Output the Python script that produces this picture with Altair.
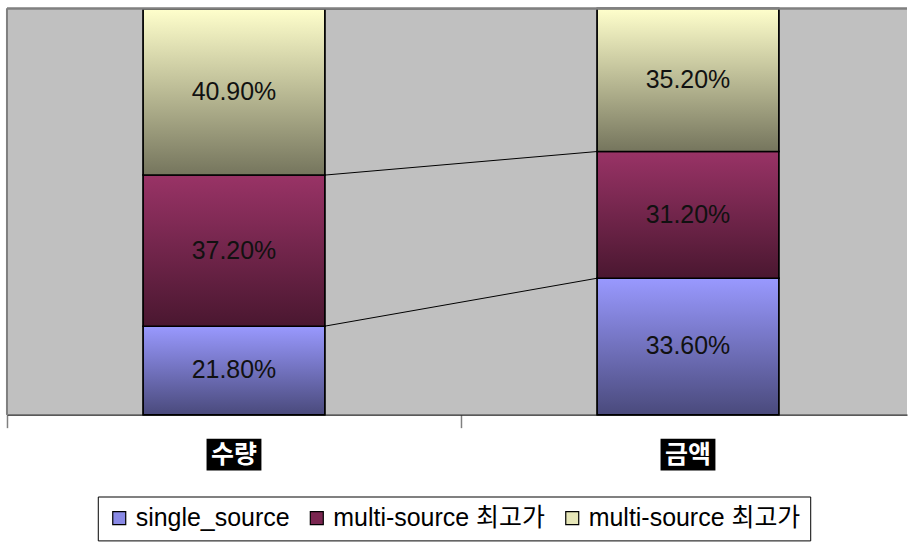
import altair as alt
import pandas as pd

# ---- data ----
categories = ["수량", "금액"]
series_keys = ["s1", "s2", "s3"]
series_labels = ["single_source", "multi-source 최고가", "multi-source 최고가"]
values_by_category = {
    "수량": [21.8, 37.2, 40.9],
    "금액": [33.6, 31.2, 35.2],
}
value_labels_by_category = {
    "수량": ["21.80%", "37.20%", "40.90%"],
    "금액": ["33.60%", "31.20%", "35.20%"],
}

# ---- styles ----
legend_colors = ["#8a8ae6", "#7a2650", "#e6e6b8"]
gradient_stops = {
    "s1": ("#9999ff", "#4a4a7c"),
    "s2": ("#993366", "#4a1730"),
    "s3": ("#ffffcc", "#75755d"),
}
BAR_FRAC = 0.4
PLOT_W = 902
PLOT_H = 407
BAND_PX = 455
LABEL_FONT = "Liberation Sans, Arial, 'Noto Sans CJK KR'"

# ---- tables ----
rows = []
for i, cat in enumerate(categories):
    cum = 0.0
    for j, key in enumerate(series_keys):
        v = values_by_category[cat][j]
        rows.append({
            "cat": cat,
            "key": key,
            "start": cum,
            "end": cum + v,
            "mid": cum + v / 2,
            "label": value_labels_by_category[cat][j],
            "x0": i + 0.5 - BAR_FRAC / 2,
            "x1": i + 0.5 + BAR_FRAC / 2,
            "xc": i + 0.5,
        })
        cum += v
df = pd.DataFrame(rows)

conn_rows = []
for i in range(len(categories) - 1):
    a = df[df["cat"] == categories[i]].reset_index(drop=True)
    b = df[df["cat"] == categories[i + 1]].reset_index(drop=True)
    for j in range(len(series_keys)):
        conn_rows.append({
            "xa": a.loc[j, "x1"], "xb": b.loc[j, "x0"],
            "ya": a.loc[j, "end"], "yb": b.loc[j, "end"],
        })
conn = pd.DataFrame(conn_rows)

cat_df = pd.DataFrame({"cat": categories, "xc": [i + 0.5 for i in range(len(categories))]})

xs = alt.Scale(domain=[0, PLOT_W / BAND_PX], nice=False, zero=False)
ys = alt.Scale(domain=[0, 100], nice=False)

label_expr = " : ".join(
    f"datum.value == '{k}' ? '{l}'" for k, l in zip(series_keys[:-1], series_labels[:-1])
) + f" : '{series_labels[-1]}'"

x_axis = alt.Axis(values=[0, 1], labels=False, title=None, ticks=True, tickSize=13,
                  tickColor="#808080", tickWidth=1.5, domainColor="#222222", domainWidth=1.2,
                  grid=False)

base = alt.Chart(df)

legend_bars = base.mark_bar(stroke="black", strokeWidth=1.5).encode(
    x=alt.X("x0:Q", scale=xs, axis=x_axis),
    x2="x1",
    y=alt.Y("start:Q", scale=ys, axis=None),
    y2="end",
    color=alt.Color(
        "key:N",
        scale=alt.Scale(domain=series_keys, range=legend_colors),
        legend=alt.Legend(
            title=None, orient="none", legendX=91, legendY=489,
            direction="horizontal", columns=3,
            strokeColor="black", fillColor="white", padding=9,
            labelFont=LABEL_FONT, labelFontSize=25, labelColor="black",
            labelExpr=label_expr, labelLimit=400,
            symbolType="square", symbolSize=169, symbolStrokeColor="black",
            symbolStrokeWidth=1.2, symbolOpacity=1,
            columnPadding=14, labelOffset=4,
        ),
    ),
)

grad_layers = []
for key in series_keys:
    top, bottom = gradient_stops[key]
    grad = alt.Gradient(
        gradient="linear",
        stops=[alt.GradientStop(color=top, offset=0), alt.GradientStop(color=bottom, offset=1)],
        x1=0, x2=0, y1=0, y2=1,
    )
    grad_layers.append(
        base.transform_filter(alt.datum.key == key)
        .mark_bar(fill=grad, stroke="black", strokeWidth=1.5)
        .encode(
            x=alt.X("x0:Q", scale=xs),
            x2="x1",
            y=alt.Y("start:Q", scale=ys, axis=None),
            y2="end",
        )
    )

connectors = alt.Chart(conn).mark_rule(color="black", strokeWidth=1).encode(
    x=alt.X("xa:Q", scale=xs), x2="xb",
    y=alt.Y("ya:Q", scale=ys, axis=None), y2="yb",
)

texts = base.mark_text(font=LABEL_FONT, fontSize=25, color="#111111").encode(
    x=alt.X("xc:Q", scale=xs),
    y=alt.Y("mid:Q", scale=ys, axis=None),
    text="label:N",
)

top_border = alt.Chart(cat_df).mark_rule(color="#808080", strokeWidth=2).encode(
    y=alt.YDatum(100, scale=ys, axis=None)
)
left_border = alt.Chart(cat_df).mark_rule(color="#808080", strokeWidth=2).encode(
    x=alt.XDatum(0, scale=xs)
)

label_boxes = alt.Chart(cat_df).mark_rect(color="black", width=55, height=32).encode(
    x=alt.X("xc:Q", scale=xs),
    y=alt.value(PLOT_H + 40),
)
label_texts = alt.Chart(cat_df).mark_text(
    color="white", font="'Noto Sans CJK KR'", fontSize=25, fontWeight="bold", baseline="middle"
).encode(
    x=alt.X("xc:Q", scale=xs),
    y=alt.value(PLOT_H + 40),
    text="cat:N",
)

chart = alt.layer(
    legend_bars, *grad_layers, connectors, texts, top_border, left_border,
    label_boxes, label_texts,
).properties(
    width=PLOT_W, height=PLOT_H,
    padding={"left": 6, "top": 7, "right": 0, "bottom": 0},
    background="white",
).configure_view(fill="#c0c0c0", stroke=None).configure_axisY(disable=True)

chart.save("out.html", embed_options={"renderer": "svg", "actions": False})
